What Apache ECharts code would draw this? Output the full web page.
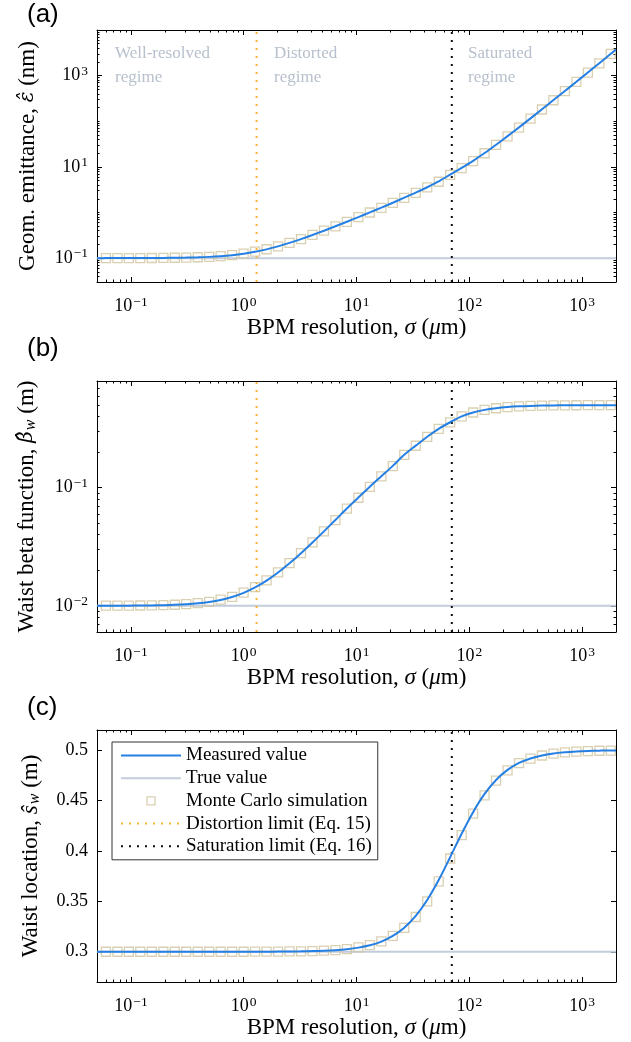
<!DOCTYPE html>
<html>
<head>
<meta charset="utf-8">
<script src="https://cdn.jsdelivr.net/npm/echarts@6/dist/echarts.min.js"></script>
<style>
html,body{margin:0;padding:0;background:#fff}
#chart{width:631px;height:1042px}
</style>
</head>
<body>
<div id="chart"></div>
<script>
// ---------------- data ----------------
const xLimits = [0.05, 2000];                       // BPM resolution range (um)
const xMajorTicks = [0.1, 1, 10, 100, 1000];

// sampling of the measured (analytic) curve
const sigmaCurve = [0.05, 0.06, 0.0759, 0.0958, 0.121, 0.153, 0.194, 0.245, 0.309, 0.391, 0.494,
  0.624, 0.789, 0.998, 1.261, 1.594, 2.015, 2.547, 3.22, 4.07, 5.144,
  6.501, 8.218, 10.39, 13.13, 16.6, 20.98, 26.51, 33.52, 42.36, 53.55,
  67.69, 85.55, 108.1, 136.7, 172.8, 218.4, 276.1, 349.0, 441.1, 557.6,
  704.7, 890.8, 1126, 1423, 1799, 2000];
// Monte Carlo sample points
const sigmaMC = [0.06, 0.0759, 0.0958, 0.121, 0.153, 0.194, 0.245, 0.309, 0.391, 0.494,
  0.624, 0.789, 0.998, 1.261, 1.594, 2.015, 2.547, 3.22, 4.07, 5.144,
  6.501, 8.218, 10.39, 13.13, 16.6, 20.98, 26.51, 33.52, 42.36, 53.55,
  67.69, 85.55, 108.1, 136.7, 172.8, 218.4, 276.1, 349.0, 441.1, 557.6,
  704.7, 890.8, 1126, 1423, 1799];

// (a) geometric emittance (nm)
const emittanceMeasured = [0.1000, 0.1001, 0.1002, 0.1003, 0.1004, 0.1007, 0.1011, 0.1017, 0.1027, 0.1042, 0.1066,
  0.1104, 0.1162, 0.1249, 0.1376, 0.1558, 0.1812, 0.2156, 0.2616, 0.3217, 0.3994,
  0.4995, 0.628, 0.793, 1.005, 1.279, 1.637, 2.111, 2.73, 3.58, 4.80,
  6.75, 9.5, 13.6, 20.1, 30.6, 47.2, 73.4, 115.5, 182.5, 291,
  462, 734, 1172, 1875, 3005, 3720];
const emittanceMC = [0.1002, 0.1003, 0.1003, 0.1005, 0.1008, 0.1012, 0.1019, 0.1029, 0.1045, 0.1070,
  0.1110, 0.1170, 0.1258, 0.1385, 0.1566, 0.1818, 0.2160, 0.2620, 0.3220, 0.3990,
  0.4980, 0.6260, 0.7900, 1.000, 1.270, 1.625, 2.090, 2.700, 3.540, 4.720,
  6.680, 9.400, 13.40, 19.90, 30.30, 46.80, 72.80, 114.5, 181.0, 289.0,
  458.0, 728.0, 1165, 1865, 2990];
const emittanceTrue = 0.1;

// (b) waist beta function (m)
const betaMeasured = [0.01, 0.01001, 0.01002, 0.01003, 0.01005, 0.01008, 0.01012, 0.01019, 0.01031, 0.01049, 0.01077,
  0.0112, 0.01186, 0.01286, 0.01429, 0.01632, 0.01913, 0.02291, 0.0279, 0.03437, 0.04269,
  0.05329, 0.06671, 0.0825, 0.102, 0.125, 0.153, 0.19, 0.227, 0.27, 0.315,
  0.358, 0.402, 0.433, 0.4557, 0.4709, 0.4812, 0.488, 0.4924, 0.4952, 0.497,
  0.4981, 0.4988, 0.4993, 0.4995, 0.4997, 0.4998];
const betaMC = [0.01002, 0.01003, 0.01003, 0.01006, 0.01009, 0.01014, 0.01021, 0.01033, 0.01052, 0.01081,
  0.01126, 0.01192, 0.01293, 0.01438, 0.01641, 0.01921, 0.02298, 0.02795, 0.0344, 0.0427,
  0.0532, 0.0665, 0.0822, 0.1016, 0.1245, 0.1525, 0.1895, 0.2265, 0.2695, 0.3145,
  0.3575, 0.4015, 0.433, 0.4555, 0.4705, 0.481, 0.4878, 0.4922, 0.495, 0.4968,
  0.4979, 0.4986, 0.4991, 0.4993, 0.4995];
const betaTrue = 0.01;

// (c) waist location (m)
const waistMeasured = [0.3, 0.3, 0.3, 0.3, 0.3, 0.3, 0.3, 0.3, 0.3, 0.3, 0.3,
  0.3, 0.3, 0.30004, 0.30006, 0.3001, 0.30016, 0.30025, 0.3004, 0.30064, 0.301,
  0.3016, 0.3026, 0.3041, 0.3064, 0.3101, 0.3157, 0.3239, 0.3356, 0.3514, 0.3712,
  0.3938, 0.4171, 0.4385, 0.4566, 0.4704, 0.4804, 0.4873, 0.4918, 0.4948, 0.4967,
  0.4979, 0.4987, 0.4992, 0.4995, 0.4997, 0.4997];
const waistMC = [0.3, 0.3, 0.3, 0.3, 0.3, 0.3, 0.3, 0.3, 0.3, 0.3,
  0.3, 0.3, 0.3, 0.3001, 0.3001, 0.3002, 0.3003, 0.3004, 0.3007, 0.3011,
  0.3017, 0.3027, 0.3043, 0.3066, 0.3103, 0.3158, 0.3236, 0.3345, 0.3500, 0.3698,
  0.3925, 0.4158, 0.4370, 0.4552, 0.4698, 0.4800, 0.4871, 0.4917, 0.4947, 0.4966,
  0.4978, 0.4986, 0.4991, 0.4994, 0.4996];
const waistTrue = 0.3;

const distortionLimit = 1.3;   // Eq. 15
const saturationLimit = 70;    // Eq. 16

const yLimitsA = [0.03, 10000], yMajorA = [0.1, 10, 1000];
const yLimitsB = [0.006, 0.8],  yMajorB = [0.01, 0.1];
const yLimitsC = [0.27, 0.52],  yMajorC = [0.3, 0.35, 0.4, 0.45, 0.5];

const regimeLabels = ['Well-resolved\nregime', 'Distorted\nregime', 'Saturated\nregime'];
const panelLabels = ['(a)', '(b)', '(c)'];
const legendNames = ['Measured value', 'True value', 'Monte Carlo simulation',
  'Distortion limit (Eq. 15)', 'Saturation limit (Eq. 16)'];

// ---------------- styling ----------------
const FONT = "'Liberation Serif', 'DejaVu Serif', serif";
const HATFONT = "'DejaVu Serif', serif";
const C_BLUE = '#2680e3', C_TRUE = '#c2ccdb', C_MC = '#d0c39e', C_ORANGE = '#f7b531', C_BLACK = '#111';
const DOT = [2, 6];

function minorLog(lim, majors) {
  const out = [];
  for (let e = Math.floor(Math.log10(lim[0])) - 1; e <= Math.ceil(Math.log10(lim[1])); e++) {
    for (let k = 1; k <= 9; k++) {
      const v = +(k * Math.pow(10, e)).toPrecision(6);
      if (v > lim[0] * 1.0001 && v < lim[1] * 0.9999 && !majors.some(m => Math.abs(m - v) / m < 1e-6)) out.push(v);
    }
  }
  return out;
}
function powLabel(v) {
  const e = Math.round(Math.log10(v));
  return '{b|10}{s|' + (e < 0 ? '\u2212' + (-e) : e) + '}';
}
const labelRich = {
  b: {fontFamily: FONT, fontSize: 18, color: '#000'},
  s: {fontFamily: FONT, fontSize: 13.5, color: '#000', verticalAlign: 'bottom', padding: [0, 0, 9, 1]}
};
const nameRich = {
  t: {fontFamily: FONT, fontSize: 23, color: '#000'},
  i: {fontFamily: FONT, fontSize: 23, color: '#000', fontStyle: 'italic'},
  h: {fontFamily: HATFONT, fontSize: 20, color: '#000', fontStyle: 'italic'},
  sub: {fontFamily: FONT, fontSize: 16, color: '#000', fontStyle: 'italic', verticalAlign: 'top', padding: [9, 0, 0, 1]}
};

const panels = [
  {grid: {left: 97, top: 30, width: 519, height: 252}, yType: 'log', yLim: yLimitsA, yMajor: yMajorA,
   yName: '{t|Geom. emittance, }{h|\u03b5\u0302}{t| (nm)}', yGap: 58,
   curve: emittanceMeasured, mc: emittanceMC, truth: emittanceTrue, distortion: true},
  {grid: {left: 97, top: 381, width: 519, height: 251}, yType: 'log', yLim: yLimitsB, yMajor: yMajorB,
   yName: '{t|Waist beta function, }{h|\u03b2\u0302}{sub|w}{t| (m)}', yGap: 58,
   curve: betaMeasured, mc: betaMC, truth: betaTrue, distortion: true},
  {grid: {left: 97, top: 730, width: 519, height: 252}, yType: 'value', yLim: yLimitsC, yMajor: yMajorC,
   yName: '{t|Waist location, }{i|\u015d}{sub|w}{t| (m)}', yGap: 54,
   curve: waistMeasured, mc: waistMC, truth: waistTrue, distortion: false}
];

const grids = [], xAxes = [], yAxes = [], series = [];
const lineBlack = {show: true, lineStyle: {color: '#000', width: 1}};
const xName = '{t|BPM resolution, }{i|\u03c3}{t| (}{i|\u03bc}{t|m)}';
const xMinor = minorLog(xLimits, xMajorTicks);

panels.forEach((p, gi) => {
  grids.push(Object.assign({outerBoundsMode: 'none', containLabel: false}, p.grid));
  // ---- x axes ----
  const xi = xAxes.length;
  const xBase = {gridIndex: gi, type: 'log', logBase: 10, min: xLimits[0], max: xLimits[1], splitLine: {show: false}, silent: true};
  xAxes.push(Object.assign({}, xBase, {
    position: 'bottom', axisLine: lineBlack,
    axisTick: {show: true, inside: true, length: 5, customValues: xMajorTicks, lineStyle: {color: '#000', width: 1}},
    axisLabel: {show: true, customValues: xMajorTicks, formatter: powLabel, rich: labelRich, margin: 13},
    name: xName, nameLocation: 'middle', nameGap: 33, nameTextStyle: {rich: nameRich}
  }));
  xAxes.push(Object.assign({}, xBase, {
    position: 'bottom', axisLine: {show: false},
    axisTick: {show: true, inside: true, length: 2.5, customValues: xMinor, lineStyle: {color: '#000', width: 1}},
    axisLabel: {show: false}
  }));
  xAxes.push(Object.assign({}, xBase, {
    position: 'top', axisLine: lineBlack,
    axisTick: {show: true, inside: true, length: 5, customValues: xMajorTicks, lineStyle: {color: '#000', width: 1}},
    axisLabel: {show: false}
  }));
  xAxes.push(Object.assign({}, xBase, {
    position: 'top', axisLine: {show: false},
    axisTick: {show: true, inside: true, length: 2.5, customValues: xMinor, lineStyle: {color: '#000', width: 1}},
    axisLabel: {show: false}
  }));
  // ---- y axes ----
  const yi = yAxes.length;
  const yBase = {gridIndex: gi, type: p.yType, min: p.yLim[0], max: p.yLim[1], splitLine: {show: false}, silent: true};
  if (p.yType === 'log') yBase.logBase = 10;
  const fmt = p.yType === 'log' ? powLabel : (v => String(+(+v).toFixed(2)));
  yAxes.push(Object.assign({}, yBase, {
    position: 'left', axisLine: lineBlack,
    axisTick: {show: true, inside: true, length: 5, customValues: p.yMajor, lineStyle: {color: '#000', width: 1}},
    axisLabel: {show: true, customValues: p.yMajor, formatter: fmt, rich: labelRich, margin: 9,
      fontFamily: FONT, fontSize: 18, color: '#000'},
    name: p.yName, nameLocation: 'middle', nameGap: p.yGap, nameRotate: 90, nameTextStyle: {rich: nameRich}
  }));
  yAxes.push(Object.assign({}, yBase, {
    position: 'right', axisLine: lineBlack,
    axisTick: {show: true, inside: true, length: 5, customValues: p.yMajor, lineStyle: {color: '#000', width: 1}},
    axisLabel: {show: false}
  }));
  if (p.yType === 'log') {
    const yMinor = minorLog(p.yLim, p.yMajor);
    ['left', 'right'].forEach(pos => yAxes.push(Object.assign({}, yBase, {
      position: pos, axisLine: {show: false},
      axisTick: {show: true, inside: true, length: 2.5, customValues: yMinor, lineStyle: {color: '#000', width: 1}},
      axisLabel: {show: false}
    })));
  }
  const common = {xAxisIndex: xi, yAxisIndex: yi, silent: true, emphasis: {disabled: true}, animation: false};
  series.push(Object.assign({}, common, {
    type: 'line', name: legendNames[1], symbol: 'none', z: 2,
    data: [[xLimits[0], p.truth], [xLimits[1], p.truth]],
    itemStyle: {color: C_TRUE}, lineStyle: {color: C_TRUE, width: 2}
  }));
  if (p.distortion) series.push(Object.assign({}, common, {
    type: 'line', name: legendNames[3], symbol: 'none', z: 3,
    data: [[distortionLimit, p.yLim[0]], [distortionLimit, p.yLim[1]]],
    itemStyle: {color: C_ORANGE}, lineStyle: {color: C_ORANGE, width: 2, type: DOT}
  }));
  series.push(Object.assign({}, common, {
    type: 'line', name: legendNames[4], symbol: 'none', z: 3,
    data: [[saturationLimit, p.yLim[0]], [saturationLimit, p.yLim[1]]],
    itemStyle: {color: C_BLACK}, lineStyle: {color: C_BLACK, width: 2, type: DOT}
  }));
  series.push(Object.assign({}, common, {
    type: 'scatter', name: legendNames[2], symbol: 'rect', symbolSize: 9, z: 4,
    data: sigmaMC.map((s, i) => [s, p.mc[i]]),
    itemStyle: {color: 'rgba(0,0,0,0)', borderColor: C_MC, borderWidth: 1.3}
  }));
  series.push(Object.assign({}, common, {
    type: 'line', name: legendNames[0], symbol: 'none', smooth: 0.3, z: 5,
    data: sigmaCurve.map((s, i) => [s, p.curve[i]]),
    itemStyle: {color: C_BLUE}, lineStyle: {color: C_BLUE, width: 2}
  }));
});

const graphic = [];
const regimeX = [115, 274, 468];
regimeLabels.forEach((t, i) => graphic.push({
  type: 'text', left: regimeX[i], top: 42, silent: true,
  style: {text: t, fontFamily: FONT, fontSize: 17, fill: '#b7c0cc', lineHeight: 23.4}
}));
const panelTop = [2, 336, 695];
panelLabels.forEach((t, i) => graphic.push({
  type: 'text', left: 27, top: panelTop[i], silent: true,
  style: {text: t, fontFamily: "'Liberation Sans', sans-serif", fontSize: 26, fill: '#000'}
}));

const hiddenSymbol = {opacity: 0};
const chart = echarts.init(document.getElementById('chart'), null, {renderer: 'canvas'});
chart.setOption({
  animation: false,
  backgroundColor: '#fff',
  grid: grids,
  xAxis: xAxes,
  yAxis: yAxes,
  series: series,
  graphic: graphic,
  legend: {
    orient: 'vertical', left: 112, top: 742, padding: [4, 6, 4, 8], itemGap: 3.7,
    itemWidth: 60, itemHeight: 8, backgroundColor: '#fff', borderColor: '#333', borderWidth: 1,
    borderRadius: 0, selectedMode: false,
    textStyle: {fontFamily: FONT, fontSize: 19, color: '#000', lineHeight: 16},
    data: [
      {name: legendNames[0], itemStyle: hiddenSymbol},
      {name: legendNames[1], itemStyle: hiddenSymbol},
      {name: legendNames[2], icon: 'path://M0 0H10V10H0Z', itemStyle: {color: 'rgba(0,0,0,0)', borderColor: C_MC, borderWidth: 1.3}},
      {name: legendNames[3], itemStyle: hiddenSymbol},
      {name: legendNames[4], itemStyle: hiddenSymbol}
    ]
  }
});
</script>
</body>
</html>
